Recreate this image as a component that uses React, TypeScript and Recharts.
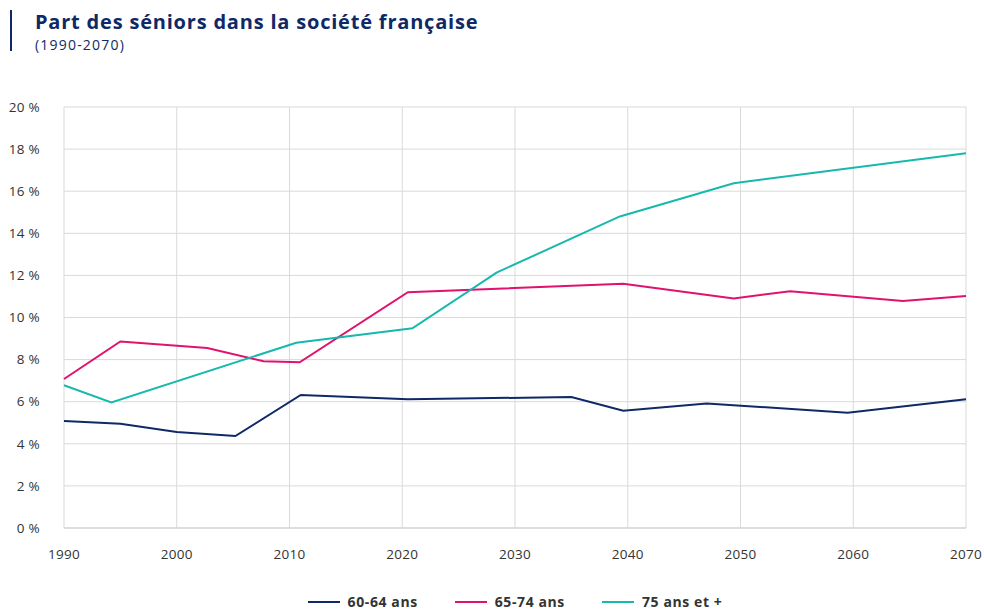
import { CartesianGrid, Line, LineChart, XAxis, YAxis } from "recharts";

// Années et parts (%), par tranche d'âge.
const years6064 = [1990, 1995, 2000, 2005.2, 2011, 2020.5, 2035, 2039.6, 2047, 2059.5, 2070];
const values6064 = [5.08, 4.95, 4.56, 4.37, 6.32, 6.12, 6.22, 5.57, 5.92, 5.48, 6.12];

const years6574 = [1990, 1995, 2002.7, 2007.7, 2010.9, 2020.5, 2039.6, 2049.4, 2054.4, 2064.4, 2070];
const values6574 = [7.08, 8.86, 8.55, 7.92, 7.87, 11.2, 11.6, 10.9, 11.25, 10.78, 11.02];

const years75 = [1990, 1994.2, 2010.6, 2020.9, 2028.4, 2039.3, 2049.4, 2070];
const values75 = [6.78, 5.97, 8.8, 9.49, 12.14, 14.8, 16.38, 17.8];

const xTicks = [1990, 2000, 2010, 2020, 2030, 2040, 2050, 2060, 2070];
const yTicks = [0, 2, 4, 6, 8, 10, 12, 14, 16, 18, 20];

const NAVY = "#0e2966";
const PINK = "#e0126e";
const TEAL = "#17b8ad";

const series = [
  { name: "60-64 ans", color: NAVY, data: years6064.map((year, i) => ({ year, value: values6064[i] })) },
  { name: "65-74 ans", color: PINK, data: years6574.map((year, i) => ({ year, value: values6574[i] })) },
  { name: "75 ans et +", color: TEAL, data: years75.map((year, i) => ({ year, value: values75[i] })) },
];

const FONT = "'Open Sans', sans-serif";
const tickStyle = { fill: "#333", fontSize: 13.5, fontFamily: FONT, letterSpacing: 0.3 };

export default function App() {
  return (
    <div style={{ position: "absolute", left: 0, top: 0, width: 984, height: 612, background: "#fff", fontFamily: FONT, overflow: "hidden" }}>
      <div style={{ position: "absolute", left: 10, top: 10, width: 2, height: 41, background: NAVY }} />
      <div style={{ position: "absolute", left: 35, top: 8, fontSize: 20, fontWeight: 700, letterSpacing: 0.8, color: NAVY, whiteSpace: "nowrap" }}>
        Part des séniors dans la société française
      </div>
      <div style={{ position: "absolute", left: 35, top: 35, fontSize: 14, letterSpacing: 1.2, color: NAVY, whiteSpace: "nowrap" }}>
        (1990-2070)
      </div>

      <LineChart width={984} height={612} margin={{ top: 107, right: 18, bottom: 0, left: 8 }}>
        <CartesianGrid stroke="#d9d9d9" strokeWidth={1} />
        <XAxis
          dataKey="year"
          type="number"
          domain={[1990, 2070]}
          ticks={xTicks}
          allowDuplicatedCategory={false}
          height={84}
          axisLine={{ stroke: "#cfcfcf" }}
          tickLine={false}
          tickSize={6}
          tickMargin={15}
          tick={tickStyle}
        />
        <YAxis
          type="number"
          domain={[0, 20]}
          ticks={yTicks}
          width={56}
          axisLine={false}
          tickLine={false}
          tickSize={6}
          tickMargin={18}
          tickFormatter={(v: number) => `${v} %`}
          tick={tickStyle}
        />
        {series.map((s) => (
          <Line
            key={s.name}
            data={s.data}
            dataKey="value"
            name={s.name}
            type="linear"
            stroke={s.color}
            strokeWidth={2}
            dot={false}
            activeDot={false}
            isAnimationActive={false}
          />
        ))}
      </LineChart>

      <div style={{ position: "absolute", left: 64, width: 902, top: 593, display: "flex", justifyContent: "center", gap: 37 }}>
        {series.map((s) => (
          <div key={s.name} style={{ display: "flex", alignItems: "center", gap: 8 }}>
            <div style={{ width: 32, height: 2, background: s.color }} />
            <span style={{ fontSize: 14, fontWeight: 700, letterSpacing: 0.6, color: "#333", lineHeight: "18px" }}>{s.name}</span>
          </div>
        ))}
      </div>
    </div>
  );
}
